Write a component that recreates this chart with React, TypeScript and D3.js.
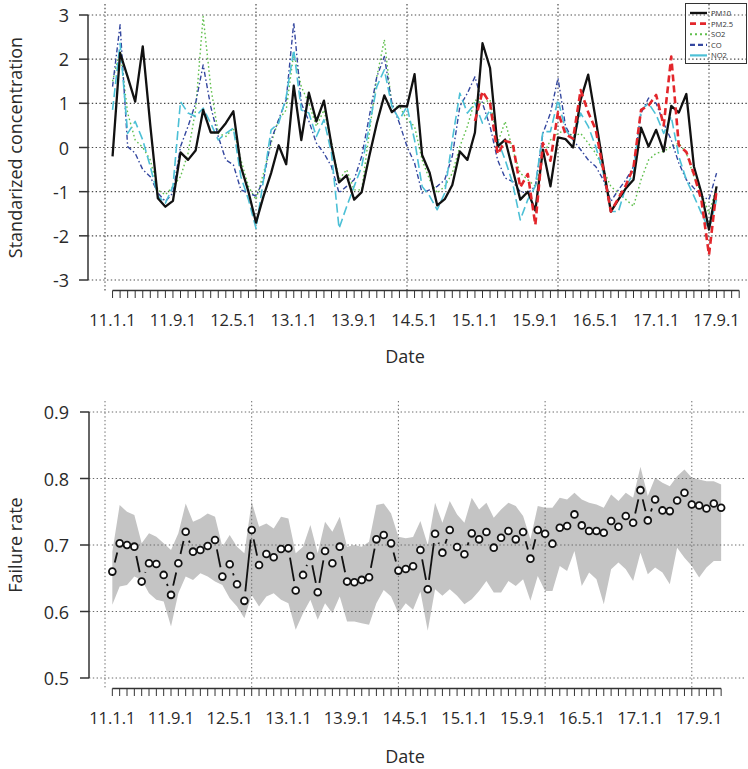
import React from "react";
import * as d3 from "d3";

// ---------- DATA ----------
const tickLabels = ["11.1.1", "11.9.1", "12.5.1", "13.1.1", "13.9.1", "14.5.1", "15.1.1", "15.9.1", "16.5.1", "17.1.1", "17.9.1"];
const monthCount = 84;
const topYTicks = [-3, -2, -1, 0, 1, 2, 3];
const botYTicks = [0.5, 0.6, 0.7, 0.8, 0.9];
const gridX = [0, 20, 40, 60, 80];

const pm10 = [
  -0.2, 2.14, 1.6, 1.04, 2.29, 0.5, -1.15, -1.34, -1.21, -0.11,
  -0.28, -0.07, 0.85, 0.34, 0.34, 0.55, 0.82, -0.43, -1.0, -1.7,
  -1.1, -0.58, 0.05, -0.38, 1.4, 0.17, 1.24, 0.59, 1.06, 0.05,
  -0.79, -0.63, -1.18, -1.01, -0.2, 0.55, 1.18, 0.8, 0.94, 0.93,
  1.66, -0.17, -0.57, -1.31, -1.17, -0.85, -0.09, -0.28, 0.34, 2.36,
  1.8, 0.02, 0.18, -0.5, -1.18, -1.0, -1.43, -0.05, -0.88, 0.23,
  0.19, 0.0, 1.08, 1.65, 0.63, -0.43, -1.45, -1.18, -0.92, -0.73,
  0.45, 0.02, 0.4, -0.09, 0.94, 0.79, 1.21, -0.43, -1.03, -1.86,
  -0.88,
];
const pm25Start = 49;
const pm25 = [
  0.6, 1.27, 1.0, -0.15, 0.15, 0.1, -0.9, -0.6, -1.75, 0.1,
  -0.3, 0.8, 0.3, 0.2, 1.3, 0.8, 0.4, -0.5, -1.45, -1.15,
  -0.85, -0.45, 0.85, 0.95, 1.19, 0.5, 2.06, 0.05, -0.1, -0.6,
  -1.2, -2.43, -0.96,
];
const so2 = [
  1.5, 2.2, 0.78, 0.17, 0.0, -0.28, -0.96, -1.07, -0.88, -0.66,
  -0.13, 0.85, 2.97, 1.38, 0.32, 0.25, 0.44, -0.28, -0.88, -1.18,
  -0.58, 0.1, 0.63, 0.85, 2.14, 1.38, 1.0, 0.48, 0.85, 0.1,
  -0.73, -0.5, -0.96, -0.96, 0.32, 1.6, 2.44, 0.93, 0.93, 0.63,
  0.48, -0.28, -0.73, -1.03, -0.88, -0.58, 0.02, 0.48, 1.08, 1.0,
  1.08, 0.1, 0.59, -0.05, -0.58, -0.73, -0.88, -0.2, 0.17, 0.32,
  0.4, 0.25, 0.32, 0.1, -0.13, -0.5, -0.88, -1.03, -1.18, -1.33,
  -0.73, -0.28, -0.13, -0.09, 0.02, 0.1, -0.13, -0.66, -1.03, -1.49,
  -0.9,
];
const co = [
  1.38, 2.78, 0.02, -0.13, -0.5, -0.66, -1.03, -1.22, -1.03, 0.02,
  0.48, 1.0, 1.87, 0.93, 0.25, -0.28, -0.39, -0.96, -1.03, -1.1,
  -0.73, 0.17, 0.63, 1.08, 2.83, 1.0, 0.6, 0.1, -0.13, -0.43,
  -1.03, -0.88, -0.73, -0.2, 0.7, 1.6, 2.06, 1.0, 0.55, 0.02,
  -0.35, -1.03, -0.96, -0.88, -0.73, -0.2, 0.93, 1.23, 1.6, 1.0,
  0.48, -0.28, -0.69, -0.77, -1.0, -1.03, -0.88, 0.32, 0.78, 1.57,
  0.48, 0.17, -0.05, -0.28, -0.43, -0.73, -1.22, -0.96, -0.73, -0.43,
  0.78, 1.12, 1.0, 0.55, 0.17, -0.35, -0.73, -0.92, -1.1, -1.18,
  -0.58,
];
const no2 = [
  0.85, 2.36, 0.32, 0.59, 0.17, -0.43, -1.1, -1.26, -0.88, 1.04,
  0.78, 0.7, 0.89, 0.55, 0.17, 0.32, 0.44, -0.66, -1.18, -1.83,
  -0.73, 0.4, 0.55, 1.15, 2.21, 0.85, 0.78, 0.25, 0.63, -0.13,
  -1.83, -1.34, -0.88, -0.43, 0.48, 1.38, 1.76, 0.93, 0.63, 0.93,
  0.17, -0.88, -1.1, -1.41, -1.03, 0.17, 1.23, 0.78, 1.0, 0.55,
  0.85, 0.17, -0.28, -0.81, -1.64, -1.18, -0.88, 0.36, 0.36, 1.08,
  0.4, 0.17, 0.78, 0.48, 0.02, -0.58, -1.45, -1.45, -0.88, -0.58,
  0.85, 1.0, 0.74, 0.32, 0.7, -0.2, -0.73, -1.1, -1.49, -1.86,
  -1.18,
];

const failure = [
  0.66, 0.7025, 0.70, 0.6975, 0.645, 0.6725, 0.6715, 0.655, 0.625, 0.6725,
  0.72, 0.69, 0.6925, 0.6985, 0.7075, 0.6525, 0.671, 0.641, 0.616, 0.7225,
  0.67, 0.6865, 0.6815, 0.694, 0.695, 0.6315, 0.655, 0.6835, 0.629, 0.691,
  0.6725, 0.6975, 0.645, 0.644, 0.6475, 0.6515, 0.7085, 0.715, 0.7025, 0.6615,
  0.664, 0.668, 0.6925, 0.6335, 0.717, 0.6885, 0.7225, 0.697, 0.686, 0.7175,
  0.7085, 0.7195, 0.696, 0.711, 0.721, 0.7085, 0.7195, 0.6795, 0.7225, 0.717,
  0.702, 0.726, 0.7285, 0.746, 0.7295, 0.721, 0.721, 0.7185, 0.736, 0.7275,
  0.7435, 0.7335, 0.7825, 0.737, 0.7685, 0.752, 0.751, 0.767, 0.7785, 0.761,
  0.7595, 0.755, 0.7625, 0.756,
];
const upper = [
  0.69, 0.76, 0.75, 0.745, 0.7025, 0.7175, 0.7125, 0.7025, 0.6925, 0.7175,
  0.7625, 0.735, 0.74, 0.7475, 0.7425, 0.6975, 0.715, 0.6975, 0.6875, 0.765,
  0.7275, 0.7325, 0.725, 0.7425, 0.74, 0.6875, 0.6975, 0.73, 0.6875, 0.735,
  0.72, 0.7425, 0.6975, 0.70, 0.6975, 0.705, 0.76, 0.7625, 0.7475, 0.7125,
  0.71, 0.712, 0.736, 0.70, 0.7635, 0.7335, 0.766, 0.746, 0.7335, 0.771,
  0.7535, 0.7635, 0.741, 0.7535, 0.7635, 0.7585, 0.7435, 0.7085, 0.7585, 0.756,
  0.756, 0.771, 0.7685, 0.7785, 0.7685, 0.7635, 0.761, 0.756, 0.776, 0.766,
  0.7785, 0.771, 0.8175, 0.7735, 0.801, 0.7935, 0.7885, 0.8035, 0.8135, 0.801,
  0.7985, 0.796, 0.796, 0.791,
];
const lower = [
  0.61, 0.6375, 0.64, 0.6525, 0.6475, 0.6275, 0.6175, 0.615, 0.5775, 0.6275,
  0.6525, 0.6475, 0.6575, 0.6525, 0.645, 0.64, 0.62, 0.6075, 0.59, 0.625,
  0.6075, 0.6225, 0.6275, 0.6175, 0.6125, 0.5725, 0.5975, 0.6175, 0.5875, 0.6125,
  0.5975, 0.6225, 0.585, 0.585, 0.5825, 0.58, 0.6125, 0.6325, 0.6225, 0.5975,
  0.6125, 0.6025, 0.63, 0.571, 0.6335, 0.6235, 0.6335, 0.6235, 0.611, 0.6185,
  0.631, 0.646, 0.6285, 0.6285, 0.646, 0.6385, 0.6485, 0.616, 0.6535, 0.631,
  0.631, 0.6685, 0.661, 0.691, 0.6385, 0.6585, 0.6485, 0.611, 0.6635, 0.6735,
  0.6635, 0.646, 0.6885, 0.656, 0.666, 0.6585, 0.641, 0.696, 0.681, 0.6685,
  0.651, 0.666, 0.676, 0.676,
];

const legendItems = [
  { name: "PM10", color: "#111111", dash: "none", width: 2.4 },
  { name: "PM2.5", color: "#e3262b", dash: "6,4", width: 2.6 },
  { name: "SO2", color: "#5fbf4c", dash: "2,3", width: 2 },
  { name: "CO", color: "#34479f", dash: "5,3", width: 2.2 },
  { name: "NO2", color: "#4cc0d6", dash: "none", width: 2.2 },
];

// ---------- LAYOUT ----------
const W = 748;
const H = 769;
const FONT = "'Open Sans', 'DejaVu Sans', sans-serif";
const TXT = "#2a2a2a";

const xTop = d3.scaleLinear().domain([0, 80]).range([105, 709]);
const yTop = d3.scaleLinear().domain([-3, 3]).range([280, 15]);
const xBot = d3.scaleLinear().domain([0, 80]).range([105, 691.8]);
const yBot = d3.scaleLinear().domain([0.5, 0.9]).range([678, 412]);

const months = d3.range(1, monthCount + 1);
const labelIdx = tickLabels.map((_, k) => 1 + k * 8);

function seriesPath(vals: number[], start: number) {
  const gen = d3
    .line<number>()
    .x((_, i) => xTop(start + i))
    .y((d) => yTop(d));
  return gen(vals) || "";
}

function gappedSegments(vals: number[], gap: number) {
  const segs: { x1: number; y1: number; x2: number; y2: number }[] = [];
  for (let i = 0; i < vals.length - 1; i++) {
    const ax = xBot(i + 1), ay = yBot(vals[i]);
    const bx = xBot(i + 2), by = yBot(vals[i + 1]);
    const dx = bx - ax, dy = by - ay;
    const len = Math.hypot(dx, dy);
    if (len <= 2 * gap) continue;
    const ux = dx / len, uy = dy / len;
    segs.push({ x1: ax + ux * gap, y1: ay + uy * gap, x2: bx - ux * gap, y2: by - uy * gap });
  }
  return segs;
}

export default function App() {
  const topSeries = [
    { vals: so2, start: 1, color: "#5fbf4c", dash: "1.6,2.6", w: 1.4 },
    { vals: co, start: 1, color: "#34479f", dash: "5,2.5,1.5,2.5", w: 1.4 },
    { vals: no2, start: 1, color: "#4cc0d6", dash: "9,4", w: 1.6 },
    { vals: pm10, start: 1, color: "#111111", dash: "none", w: 2.3 },
    { vals: pm25, start: pm25Start, color: "#e3262b", dash: "7,4", w: 2.6 },
  ];

  const band = d3
    .area<number>()
    .x((_, i) => xBot(i + 1))
    .y0((_, i) => yBot(lower[i]))
    .y1((_, i) => yBot(upper[i]));

  const segs = gappedSegments(failure, 9.5);

  const topGrid = { stroke: "#4a4a4a", strokeWidth: 1.2, strokeDasharray: "1.4,2.4" };
  const botGrid = { stroke: "#6a6a6a", strokeWidth: 1, strokeDasharray: "1.4,2.4" };

  return (
    <svg
      width={W}
      height={H}
      viewBox={`0 0 ${W} ${H}`}
      style={{ position: "absolute", left: 0, top: 0, background: "#fff" }}
      fontFamily={FONT}
    >
      <rect x={0} y={0} width={W} height={H} fill="#fff" />

      {/* ================= TOP PANEL ================= */}
      <g>
        {topYTicks.map((t) => (
          <line key={"thg" + t} x1={88} x2={748} y1={yTop(t)} y2={yTop(t)} {...topGrid} />
        ))}
        {gridX.map((g) => (
          <line key={"tvg" + g} x1={xTop(g)} x2={xTop(g)} y1={4} y2={291} {...topGrid} />
        ))}

        {topSeries.map((s, k) => (
          <path
            key={"ts" + k}
            d={seriesPath(s.vals, s.start)}
            fill="none"
            stroke={s.color}
            strokeWidth={s.w}
            strokeDasharray={s.dash}
            strokeLinejoin="round"
          />
        ))}

        {/* y axis */}
        <line x1={88} x2={88} y1={yTop(-3)} y2={yTop(3)} stroke="#333" strokeWidth={1.5} />
        {topYTicks.map((t) => (
          <g key={"tyt" + t}>
            <line x1={79} x2={88} y1={yTop(t)} y2={yTop(t)} stroke="#333" strokeWidth={1.5} />
            <text x={69} y={yTop(t)} textAnchor="end" dominantBaseline="central" fontSize={18} fill={TXT}>
              {t}
            </text>
          </g>
        ))}
        <text
          transform={`translate(15,${yTop(0)}) rotate(-90)`}
          textAnchor="middle"
          dominantBaseline="central"
          fontSize={18}
          fill={TXT}
        >
          Standarized concentration
        </text>

        {/* x axis */}
        <line x1={xTop(1)} x2={xTop(monthCount)} y1={290.5} y2={290.5} stroke="#333" strokeWidth={1.3} />
        {months.map((m) => (
          <line key={"txt" + m} x1={xTop(m)} x2={xTop(m)} y1={290.5} y2={298} stroke="#333" strokeWidth={1} />
        ))}
        {labelIdx.map((m, k) => (
          <text key={"txl" + m} x={xTop(m)} y={326} textAnchor="middle" fontSize={16.5} fill={TXT}>
            {tickLabels[k]}
          </text>
        ))}
        <text x={405} y={363} textAnchor="middle" fontSize={18} fill={TXT}>
          Date
        </text>

        {/* legend */}
        <rect x={685.5} y={3.5} width={61} height={60} fill="none" stroke="#333" strokeWidth={1} />
        {legendItems.map((it, k) => {
          const y = 13 + k * 10.6;
          return (
            <g key={"lg" + it.name}>
              <line x1={690} x2={707} y1={y} y2={y} stroke={it.color} strokeWidth={it.width} strokeDasharray={it.dash} />
              <text x={711} y={y} dominantBaseline="central" fontSize={7.6} fill="#333">
                {it.name}
              </text>
            </g>
          );
        })}
      </g>

      {/* ================= BOTTOM PANEL ================= */}
      <g>
        <path d={band(failure) || ""} fill="#c4c4c4" stroke="none" />

        {botYTicks.map((t) => (
          <line key={"bhg" + t} x1={89} x2={745} y1={yBot(t)} y2={yBot(t)} {...botGrid} />
        ))}
        {gridX.map((g) => (
          <line key={"bvg" + g} x1={xBot(g)} x2={xBot(g)} y1={401} y2={689} {...botGrid} />
        ))}

        {segs.map((s, k) => (
          <line key={"seg" + k} x1={s.x1} y1={s.y1} x2={s.x2} y2={s.y2} stroke="#111" strokeWidth={1.8} />
        ))}
        {failure.map((v, i) => (
          <circle key={"pt" + i} cx={xBot(i + 1)} cy={yBot(v)} r={3.4} fill="#fff" stroke="#111" strokeWidth={1.8} />
        ))}

        {/* y axis */}
        <line x1={89} x2={89} y1={yBot(0.5)} y2={yBot(0.9)} stroke="#333" strokeWidth={1.5} />
        {botYTicks.map((t) => (
          <g key={"byt" + t}>
            <line x1={80} x2={89} y1={yBot(t)} y2={yBot(t)} stroke="#333" strokeWidth={1.5} />
            <text x={69} y={yBot(t)} textAnchor="end" dominantBaseline="central" fontSize={18} fill={TXT}>
              {t.toFixed(1)}
            </text>
          </g>
        ))}
        <text
          transform={`translate(15,${yBot(0.7)}) rotate(-90)`}
          textAnchor="middle"
          dominantBaseline="central"
          fontSize={18}
          fill={TXT}
        >
          Failure rate
        </text>

        {/* x axis */}
        <line x1={xBot(1)} x2={xBot(monthCount)} y1={688.5} y2={688.5} stroke="#333" strokeWidth={1.3} />
        {months.map((m) => (
          <line key={"bxt" + m} x1={xBot(m)} x2={xBot(m)} y1={688.5} y2={696} stroke="#333" strokeWidth={1} />
        ))}
        {labelIdx.map((m, k) => (
          <text key={"bxl" + m} x={xBot(m)} y={724} textAnchor="middle" fontSize={16.5} fill={TXT}>
            {tickLabels[k]}
          </text>
        ))}
        <text x={405} y={763} textAnchor="middle" fontSize={18} fill={TXT}>
          Date
        </text>
      </g>
    </svg>
  );
}
